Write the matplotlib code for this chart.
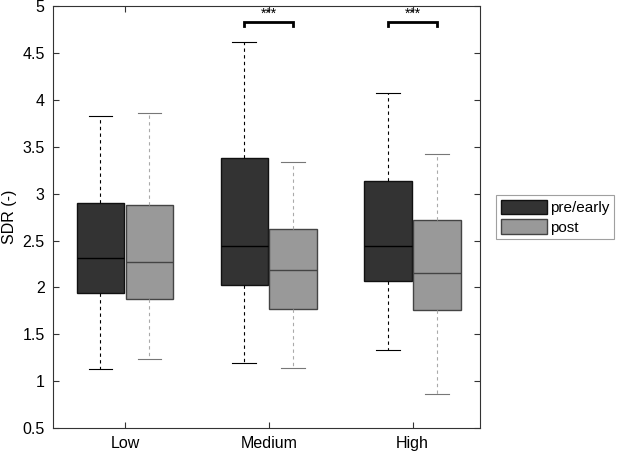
import matplotlib.pyplot as plt

plt.rcParams['font.family'] = ['Liberation Sans', 'DejaVu Sans']

# --- data ---
groups = ['Low', 'Medium', 'High']
pre_q1 = [1.94, 2.03, 2.07]
pre_med = [2.31, 2.44, 2.44]
pre_q3 = [2.90, 3.38, 3.14]
pre_lo = [1.13, 1.19, 1.33]
pre_hi = [3.83, 4.62, 4.07]

post_q1 = [1.88, 1.77, 1.76]
post_med = [2.27, 2.19, 2.15]
post_q3 = [2.88, 2.62, 2.72]
post_lo = [1.24, 1.14, 0.86]
post_hi = [3.86, 3.34, 3.42]

sig_groups = [1, 2]   # index of groups with *** marker
sig_level = 4.83
sig_text = '***'

def make_stats(q1, med, q3, lo, hi):
    return [dict(q1=a, med=b, q3=c, whislo=d, whishi=e, fliers=[])
            for a, b, c, d, e in zip(q1, med, q3, lo, hi)]

fig = plt.figure(figsize=(6.2, 4.57), dpi=100)
ax = fig.add_axes([0.0855, 0.0635, 0.689, 0.923])

pos = list(range(1, len(groups) + 1))
off, w = 0.17, 0.33

b1 = ax.bxp(make_stats(pre_q1, pre_med, pre_q3, pre_lo, pre_hi),
            positions=[p - off for p in pos], widths=w, patch_artist=True,
            boxprops=dict(facecolor='#333333', edgecolor='#111111', lw=1),
            medianprops=dict(color='black', lw=1),
            whiskerprops=dict(color='black', ls=(0, (3, 3)), lw=0.8),
            capprops=dict(color='black', lw=0.8), capwidths=w / 2,
            showfliers=False, manage_ticks=False)
b2 = ax.bxp(make_stats(post_q1, post_med, post_q3, post_lo, post_hi),
            positions=[p + off for p in pos], widths=w, patch_artist=True,
            boxprops=dict(facecolor='#999999', edgecolor='#444444', lw=1),
            medianprops=dict(color='#444444', lw=1),
            whiskerprops=dict(color='#aaaaaa', ls=(0, (3, 3)), lw=0.8),
            capprops=dict(color='#777777', lw=0.8), capwidths=w / 2,
            showfliers=False, manage_ticks=False)

# significance brackets
for g in sig_groups:
    x0, x1 = pos[g] - off, pos[g] + off
    ax.plot([x0, x0, x1, x1], [sig_level - 0.04, sig_level, sig_level, sig_level - 0.04],
            color='black', lw=2, solid_joinstyle='miter')
    ax.text(pos[g], sig_level + 0.01, sig_text, ha='center', va='bottom', fontsize=10)

ax.set_xlim(0.5, 3.47)
ax.set_ylim(0.5, 5)
ax.set_xticks(pos)
ax.set_xticklabels(groups, fontsize=11.5)
ax.set_yticks([0.5 + 0.5 * i for i in range(10)])
ax.set_yticklabels(['0.5', '1', '1.5', '2', '2.5', '3', '3.5', '4', '4.5', '5'], fontsize=11.5)
ax.set_ylabel('SDR (-)', fontsize=11.5)
ax.tick_params(direction='in', top=True, right=True, length=4, color='#333333', pad=6)
for s in ax.spines.values():
    s.set_color('#333333')
    s.set_linewidth(0.8)

leg = ax.legend([b1['boxes'][0], b2['boxes'][0]], ['pre/early', 'post'],
                loc='center left', bbox_to_anchor=(1.02, 0.50), fontsize=11,
                fancybox=False, edgecolor='#888888', handlelength=3.0,
                handleheight=1.1, borderpad=0.3, labelspacing=0.25, handletextpad=0.2)
leg.get_frame().set_linewidth(0.8)

fig.savefig('out.png', dpi=100)
